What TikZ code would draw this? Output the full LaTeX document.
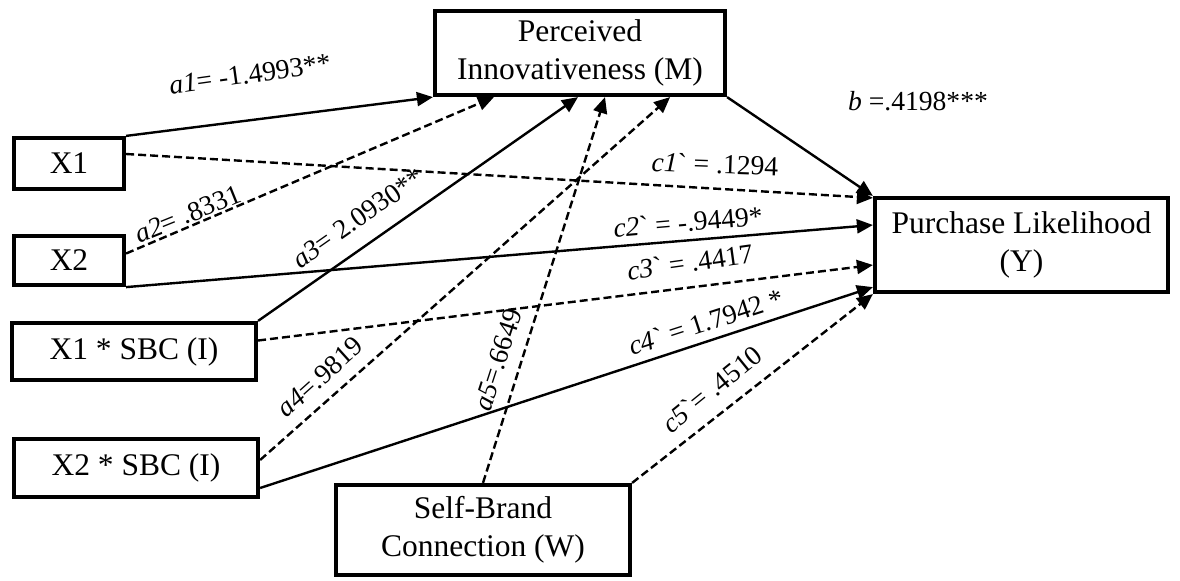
\documentclass[tikz,border=0pt]{standalone}
\usepackage{fontspec}
\setmainfont{Liberation Serif}
\usetikzlibrary{arrows.meta}
\begin{document}
\begin{tikzpicture}[x=0.5pt,y=-0.5pt,
  box/.style={draw, line width=2.1pt, align=center, inner sep=0pt,
    font=\fontsize{15.75}{19}\selectfont},
  con/.style={line width=1.2pt, -{Triangle[length=8pt,width=7pt]}},
  dsh/.style={con, dash pattern=on 4pt off 2pt},
  lbl/.style={font=\fontsize{13.8}{16}\selectfont, inner sep=0pt}]
\useasboundingbox (0,0) rectangle (1180,580);
\fill[white] (0,0) rectangle (1180,580);
% boxes
\node[box, minimum width=145pt, minimum height=42pt] (M) at (580,53) {Perceived\\Innovativeness (M)};
\node[box, minimum width=55pt, minimum height=25.5pt] (X1) at (69,163.5) {X1};
\node[box, minimum width=55pt, minimum height=24.5pt] (X2) at (69,260.5) {X2};
\node[box, minimum width=122pt, minimum height=28.5pt] (I1) at (134,351.5) {X1 * SBC (I)};
\node[box, minimum width=122pt, minimum height=29pt] (I2) at (136,468) {X2 * SBC (I)};
\node[box, minimum width=147pt, minimum height=45pt] (W) at (483,530) {Self-Brand\\Connection (W)};
\node[box, minimum width=146.5pt, minimum height=47pt] (Y) at (1021.5,245) {Purchase Likelihood\\(Y)};
% a paths
\draw[con] (X1.north east) -- (M.south west);
\draw[dsh] ([yshift=3.5pt]X2.east) -- ([xshift=30.5pt]M.south west);
\draw[con] (I1.north east) -- ([xshift=-1pt]M.south);
\draw[dsh] ([yshift=4pt]I2.east) -- ([xshift=-28.5pt]M.south east);
\draw[dsh] (W.north) -- ([xshift=12.5pt]M.south);
% b path
\draw[con] (M.south east) -- (Y.north west);
% c paths
\draw[dsh] ([yshift=4.75pt]X1.east) -- ([yshift=-1pt]Y.north west);
\draw[con] (X2.south east) -- ([yshift=10pt]Y.west);
\draw[dsh] ([yshift=5.5pt]I1.east) -- ([yshift=-10pt]Y.west);
\draw[con] ([yshift=-10pt]I2.east) -- ([yshift=3.5pt]Y.south west);
\draw[dsh] (W.north east) -- (Y.south west);
% labels
\node[lbl, rotate=8] (la1) at (250,74) {\textit{a1}= -1.4993**};
\node[lbl, rotate=22] (la2) at (188,214) {\textit{a2}= .8331};
\node[lbl, rotate=35] (la3) at (358,218) {\textit{a3}= 2.0930**};
\node[lbl, rotate=42] (la4) at (320,377) {\textit{a4}=.9819};
\node[lbl, rotate=72] (la5) at (498,360) {\textit{a5}=.6649};
\node[lbl] (lb) at (918,101) {\textit{b} =.4198***};
\node[lbl, rotate=-2] (lc1) at (715,164) {\textit{c1}\textasciigrave{} = .1294};
\node[lbl, rotate=5] (lc2) at (688,222) {\textit{c2}\textasciigrave{} = -.9449*};
\node[lbl, rotate=8] (lc3) at (690,262) {\textit{c3}\textasciigrave{} = .4417};
\node[lbl, rotate=18] (lc4) at (706,322) {\textit{c4}\textasciigrave{} = 1.7942 *};
\node[lbl, rotate=39] (lc5) at (712,389) {\textit{c5}\textasciigrave{}= .4510};
\end{tikzpicture}
\end{document}
